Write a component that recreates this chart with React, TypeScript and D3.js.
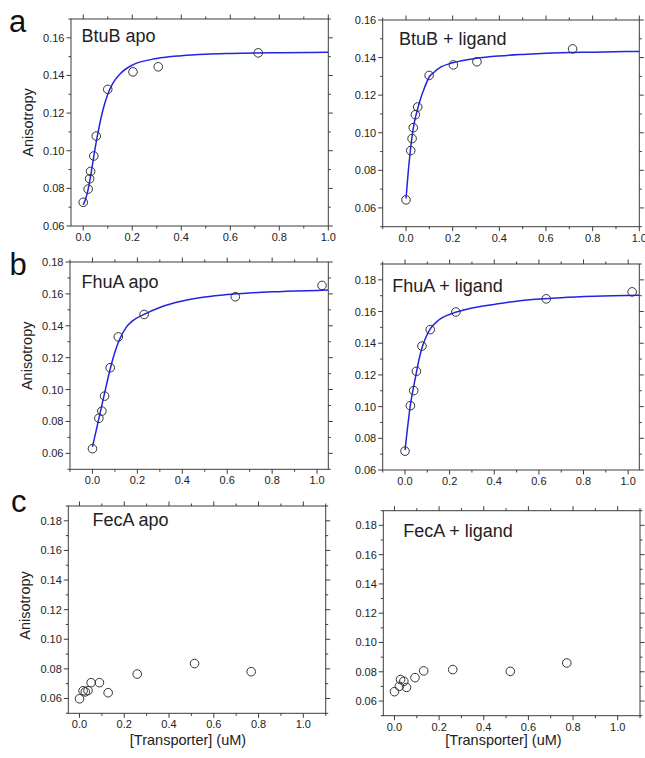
import React from "react";
import * as d3 from "d3";

// ---------- data ----------
const btubApoX = [0.0, 0.02, 0.026, 0.03, 0.043, 0.053, 0.1, 0.203, 0.306, 0.714];
const btubApoY = [0.0726, 0.0796, 0.0851, 0.089, 0.0972, 0.1078, 0.1326, 0.1419, 0.1446, 0.152];
const btubApoFitX = [0, 0.01, 0.02, 0.03, 0.04, 0.05, 0.06, 0.08, 0.1, 0.12, 0.15, 0.2, 0.3, 0.4, 0.5, 0.6, 0.8, 1.0];
const btubApoFitY = [0.0712, 0.0745, 0.0795, 0.0865, 0.0945, 0.1025, 0.1095, 0.1215, 0.13, 0.1356, 0.1408, 0.1455, 0.149, 0.1505, 0.1513, 0.1517, 0.1521, 0.1523];

const btubLigX = [0.0, 0.02, 0.026, 0.031, 0.04, 0.05, 0.099, 0.203, 0.304, 0.714];
const btubLigY = [0.0643, 0.0905, 0.0969, 0.1027, 0.1096, 0.1137, 0.1305, 0.1361, 0.1378, 0.1446];
const btubLigFitX = [0, 0.01, 0.02, 0.03, 0.04, 0.05, 0.06, 0.08, 0.1, 0.12, 0.15, 0.2, 0.3, 0.4, 0.5, 0.6, 0.8, 1.0];
const btubLigFitY = [0.065, 0.08, 0.092, 0.1015, 0.108, 0.1128, 0.1172, 0.1242, 0.1298, 0.1322, 0.135, 0.1372, 0.1396, 0.1409, 0.1417, 0.1423, 0.1429, 0.1433];

const fhuaApoX = [0.0, 0.0285, 0.042, 0.054, 0.079, 0.115, 0.23, 0.636, 1.022];
const fhuaApoY = [0.0629, 0.082, 0.0865, 0.0959, 0.1137, 0.133, 0.1471, 0.1582, 0.1653];
const fhuaApoFitX = [0, 0.02, 0.04, 0.06, 0.08, 0.1, 0.12, 0.15, 0.18, 0.23, 0.3, 0.4, 0.5, 0.6, 0.7, 0.8, 1.0, 1.05];
const fhuaApoFitY = [0.0641, 0.0765, 0.089, 0.1015, 0.1135, 0.1235, 0.1312, 0.139, 0.1432, 0.1472, 0.1515, 0.1555, 0.158, 0.1596, 0.1606, 0.1613, 0.1622, 0.1624];

const fhuaLigX = [0.0, 0.024, 0.039, 0.051, 0.076, 0.113, 0.228, 0.633, 1.018];
const fhuaLigY = [0.0719, 0.1006, 0.1101, 0.1223, 0.1382, 0.1486, 0.1597, 0.168, 0.1724];
const fhuaLigFitX = [0, 0.012, 0.024, 0.04, 0.051, 0.064, 0.076, 0.09, 0.113, 0.15, 0.216, 0.3, 0.4, 0.515, 0.7, 0.85, 1.05];
const fhuaLigFitY = [0.0725, 0.0875, 0.101, 0.1135, 0.1215, 0.1305, 0.137, 0.1425, 0.149, 0.1545, 0.159, 0.1622, 0.1645, 0.1668, 0.1687, 0.1696, 0.1703];

const fecaApoX = [0.0, 0.016, 0.026, 0.038, 0.052, 0.089, 0.128, 0.258, 0.514, 0.767];
const fecaApoY = [0.0598, 0.0652, 0.0645, 0.0654, 0.0707, 0.0707, 0.0639, 0.0765, 0.0836, 0.0781];

const fecaLigX = [0.0, 0.022, 0.027, 0.042, 0.054, 0.092, 0.131, 0.261, 0.519, 0.772];
const fecaLigY = [0.0664, 0.0701, 0.0747, 0.0735, 0.0693, 0.076, 0.0806, 0.0815, 0.0803, 0.086];

const xTickValues = [0, 0.2, 0.4, 0.6, 0.8, 1.0];
const yTickValuesAB = [0.06, 0.08, 0.1, 0.12, 0.14, 0.16];
const yTickValuesC = [0.06, 0.08, 0.1, 0.12, 0.14, 0.16, 0.18];

const titles = ["BtuB apo", "BtuB + ligand", "FhuA apo", "FhuA + ligand", "FecA apo", "FecA + ligand"];
const letters = ["a", "b", "c"];
const yLabel = "Anisotropy";
const xLabel = "[Transporter] (uM)";

// ---------- layout ----------
type PanelCfg = {
  box: [number, number, number, number]; // left, right, top, bottom
  xDomain: [number, number];
  yDomain: [number, number];
  yTicks: number[];
  title: string;
  titlePos: [number, number];
  px: number[];
  py: number[];
  fx?: number[];
  fy?: number[];
  letter?: string;
  letterPos?: [number, number];
  yLabelPos?: [number, number];
  xLabelX?: number;
};

const panels: PanelCfg[] = [
  {
    box: [71, 328.3, 19, 226], xDomain: [-0.05, 1.0], yDomain: [0.06, 0.17],
    yTicks: yTickValuesAB, title: titles[0], titlePos: [81.5, 41.7],
    px: btubApoX, py: btubApoY, fx: btubApoFitX, fy: btubApoFitY,
    letter: letters[0], letterPos: [9, 31.5], yLabelPos: [33, 122.5],
  },
  {
    box: [382.7, 639.3, 20, 226.7], xDomain: [-0.1, 1.0], yDomain: [0.05, 0.16],
    yTicks: yTickValuesAB, title: titles[1], titlePos: [399, 45],
    px: btubLigX, py: btubLigY, fx: btubLigFitX, fy: btubLigFitY,
  },
  {
    box: [70, 328.3, 262, 469.3], xDomain: [-0.1, 1.05], yDomain: [0.05, 0.18],
    yTicks: yTickValuesC, title: titles[2], titlePos: [81.5, 288.3],
    px: fhuaApoX, py: fhuaApoY, fx: fhuaApoFitX, fy: fhuaApoFitY,
    letter: letters[1], letterPos: [9.5, 275], yLabelPos: [31.7, 355.8],
  },
  {
    box: [382.7, 639.3, 264, 470], xDomain: [-0.1, 1.05], yDomain: [0.06, 0.19],
    yTicks: yTickValuesC, title: titles[3], titlePos: [392.3, 292],
    px: fhuaLigX, py: fhuaLigY, fx: fhuaLigFitX, fy: fhuaLigFitY,
  },
  {
    box: [68.3, 325.7, 506, 713.3], xDomain: [-0.05, 1.1], yDomain: [0.05, 0.19],
    yTicks: yTickValuesC, title: titles[4], titlePos: [92.5, 526],
    px: fecaApoX, py: fecaApoY,
    letter: letters[2], letterPos: [11, 512], yLabelPos: [29.5, 605.5], xLabelX: 188,
  },
  {
    box: [383.3, 640, 510.7, 715.7], xDomain: [-0.05, 1.1], yDomain: [0.05, 0.19],
    yTicks: yTickValuesC, title: titles[5], titlePos: [403.3, 536.7],
    px: fecaLigX, py: fecaLigY, xLabelX: 503.5,
  },
];

const FONT = "'Liberation Sans', Arial, sans-serif";
const AXIS = "#3c3c3c";
const TEXT = "#222";
const BLUE = "#2323e6";
const MAJ = 4.5;
const MIN = 2.5;

function Panel({ cfg }: { cfg: PanelCfg }) {
  const [l, r, t, b] = cfg.box;
  const x = d3.scaleLinear().domain(cfg.xDomain).range([l, r]);
  const y = d3.scaleLinear().domain(cfg.yDomain).range([b, t]);
  const eps = 1e-9;
  const xMinor = d3.range(-1, 12, 1).map((v) => v / 10)
    .filter((v) => v >= cfg.xDomain[0] - eps && v <= cfg.xDomain[1] + eps && Math.abs(Math.round(v * 10)) % 2 === 1);
  const xMajor = xTickValues.filter((v) => v >= cfg.xDomain[0] - eps && v <= cfg.xDomain[1] + eps);
  const yMinor = d3.range(5, 20, 1).map((v) => v / 100)
    .filter((v) => v >= cfg.yDomain[0] - eps && v <= cfg.yDomain[1] + eps && !cfg.yTicks.some((m) => Math.abs(m - v) < eps));
  const yMajor = cfg.yTicks.filter((v) => v >= cfg.yDomain[0] - eps && v <= cfg.yDomain[1] + eps);
  const fx = d3.format(".1f");
  const fy = d3.format(".2f");

  let fitPath: string | null = null;
  if (cfg.fx && cfg.fy) {
    const pts: [number, number][] = cfg.fx.map((v, i) => [v, cfg.fy![i]]);
    fitPath = d3.line<[number, number]>()
      .x((d) => x(d[0]))
      .y((d) => y(d[1]))
      .curve(d3.curveMonotoneX)(pts);
  }
  const clipId = `clip-${Math.round(l)}-${Math.round(t)}`;

  return (
    <g>
      <defs>
        <clipPath id={clipId}>
          <rect x={l} y={t} width={r - l} height={b - t} />
        </clipPath>
      </defs>
      <g stroke={AXIS} strokeWidth={1}>
        {xMajor.map((v) => (
          <g key={`xm${v}`}>
            <line x1={x(v)} x2={x(v)} y1={b} y2={b + MAJ} />
            <line x1={x(v)} x2={x(v)} y1={t} y2={t - MAJ} />
          </g>
        ))}
        {xMinor.map((v) => (
          <g key={`xn${v}`}>
            <line x1={x(v)} x2={x(v)} y1={b} y2={b + MIN} />
            <line x1={x(v)} x2={x(v)} y1={t} y2={t - MIN} />
          </g>
        ))}
        {yMajor.map((v) => (
          <g key={`ym${v}`}>
            <line x1={l} x2={l - MAJ} y1={y(v)} y2={y(v)} />
            <line x1={r} x2={r + MAJ} y1={y(v)} y2={y(v)} />
          </g>
        ))}
        {yMinor.map((v) => (
          <g key={`yn${v}`}>
            <line x1={l} x2={l - MIN} y1={y(v)} y2={y(v)} />
            <line x1={r} x2={r + MIN} y1={y(v)} y2={y(v)} />
          </g>
        ))}
      </g>
      <rect x={l} y={t} width={r - l} height={b - t} fill="none" stroke={AXIS} strokeWidth={1} />
      <g fontFamily={FONT} fontSize={11} fill={TEXT}>
        {xMajor.map((v) => (
          <text key={`xl${v}`} x={x(v)} y={b + 15} textAnchor="middle">{fx(v)}</text>
        ))}
        {yMajor.map((v) => (
          <text key={`yl${v}`} x={l - 6.5} y={y(v) + 4} textAnchor="end">{fy(v)}</text>
        ))}
      </g>
      {fitPath && (
        <path d={fitPath} fill="none" stroke={BLUE} strokeWidth={1.5} clipPath={`url(#${clipId})`} />
      )}
      <g fill="none" stroke="#333" strokeWidth={1}>
        {cfg.px.map((v, i) => (
          <circle key={`p${i}`} cx={x(v)} cy={y(cfg.py[i])} r={4.3} />
        ))}
      </g>
      <text x={cfg.titlePos[0]} y={cfg.titlePos[1]} fontFamily={FONT} fontSize={18} fill={TEXT}>{cfg.title}</text>
      {cfg.letter && cfg.letterPos && (
        <text x={cfg.letterPos[0]} y={cfg.letterPos[1]} fontFamily={FONT} fontSize={31} fill="#111">{cfg.letter}</text>
      )}
      {cfg.yLabelPos && (
        <text transform={`translate(${cfg.yLabelPos[0]},${cfg.yLabelPos[1]}) rotate(-90)`} textAnchor="middle"
          fontFamily={FONT} fontSize={14.5} fill={TEXT}>{yLabel}</text>
      )}
      {cfg.xLabelX !== undefined && (
        <text x={cfg.xLabelX} y={745} textAnchor="middle" fontFamily={FONT} fontSize={14.5} fill={TEXT}>{xLabel}</text>
      )}
    </g>
  );
}

export default function App() {
  return (
    <svg width={645} height={758} style={{ position: "absolute", left: 0, top: 0, background: "#fff" }}>
      <rect x={0} y={0} width={645} height={758} fill="#fff" />
      {panels.map((p, i) => (
        <Panel key={i} cfg={p} />
      ))}
    </svg>
  );
}
